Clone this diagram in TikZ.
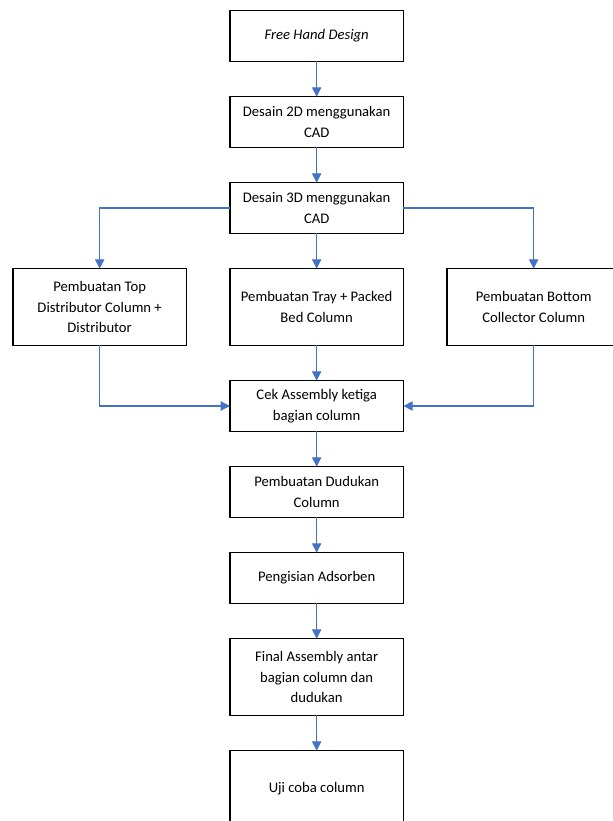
\documentclass[tikz,border=0pt]{standalone}
\usepackage{fontspec}
\setmainfont{Carlito}
\usetikzlibrary{positioning,arrows.meta}
\definecolor{flowblue}{HTML}{4472C4}

\begin{document}
\begin{tikzpicture}[font=\fontsize{11pt}{15.5pt}\selectfont,
  >={Triangle[length=7pt,width=7pt]},
  node distance=26.5pt and 32.75pt,
  box/.style={draw, line width=0.8pt, minimum width=130pt,
    minimum height=38pt, align=center, inner sep=2pt, outer sep=0pt},
  tallbox/.style={box, minimum height=57.5pt},
  flow/.style={->, draw=flowblue, line width=0.9pt}]
  \useasboundingbox (0,0) rectangle (459pt,-615.75pt);
  \node[box] (fh) at (237.5pt,-27pt) {\textit{Free Hand Design}};
  \node[box, below=of fh] (d2) {Desain 2D menggunakan\\CAD};
  \node[box, below=of d2] (d3) {Desain 3D menggunakan\\CAD};
  \node[tallbox, below=of d3]    (tray) {Pembuatan Tray + Packed\\Bed Column};
  \node[tallbox, left=of tray]   (top)  {Pembuatan Top\\Distributor Column +\\Distributor};
  \node[tallbox, right=of tray]  (bot)  {Pembuatan Bottom\\Collector Column};
  \node[box, below=of tray] (cek) {Cek Assembly ketiga\\bagian column};
  \node[box, below=of cek]  (dud) {Pembuatan Dudukan\\Column};
  \node[box, below=of dud]  (isi) {Pengisian Adsorben};
  \node[tallbox, below=of isi] (fin) {Final Assembly antar\\bagian column dan\\dudukan};
  \node[tallbox, below=of fin] (uji) {Uji coba column};
  % main line
  \foreach \a/\b in {fh/d2, d2/d3, d3/tray, tray/cek, cek/dud, dud/isi, isi/fin, fin/uji}
    \draw[flow] (\a) -- (\b);
  % branches
  \draw[flow] (d3) -| (top);
  \draw[flow] (d3) -| (bot);
  \draw[flow] (top) |- (cek);
  \draw[flow] (bot) |- (cek);
\end{tikzpicture}
\end{document}
